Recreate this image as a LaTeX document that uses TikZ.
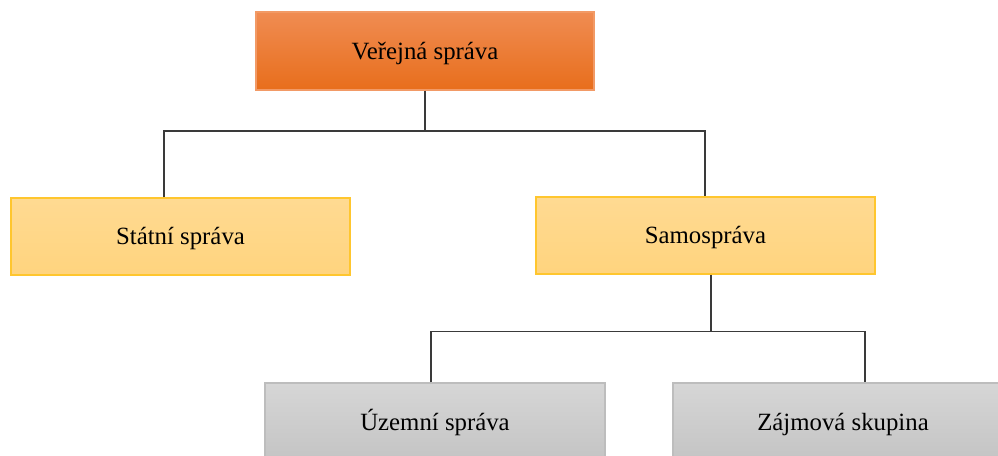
\documentclass[tikz,border=0pt]{standalone}
\usepackage{fontspec}
\setmainfont{Liberation Serif}
\begin{document}
\begin{tikzpicture}[x=1pt,y=-1pt,
  box/.style={rectangle, minimum height=78pt, inner sep=0pt, text height=21pt, text depth=5pt, font=\fontsize{24.8}{29}\selectfont, text=black, line width=1.2pt},
  orangebox/.style={box, minimum width=338pt, top color=orangeT, bottom color=orangeB, draw=orangeD},
  yellowbox/.style={box, minimum width=339pt, minimum height=77pt, top color=yellowT, bottom color=yellowB, draw=yellowD},
  graybox/.style={box, minimum width=340pt, top color=grayT, bottom color=grayB, draw=grayD},
  conn/.style={draw=lineC, line width=1.5pt}]
\definecolor{orangeT}{HTML}{F08C52}
\definecolor{orangeB}{HTML}{E86E1C}
\definecolor{orangeD}{HTML}{F29A66}
\definecolor{yellowT}{HTML}{FFDA92}
\definecolor{yellowB}{HTML}{FFD47E}
\definecolor{yellowD}{HTML}{FFC62E}
\definecolor{grayT}{HTML}{D6D6D6}
\definecolor{grayB}{HTML}{C4C4C4}
\definecolor{grayD}{HTML}{BDBDBD}
\definecolor{lineC}{HTML}{3A3A3A}
\useasboundingbox (0,0) rectangle (998,455);
\clip (0,0) rectangle (998,455);
\fill[white] (0,0) rectangle (998,455);
\node[orangebox] (top) at (425,51) {Veřejná správa};
\node[yellowbox] (statni) at (180.5,236.5) {Státní správa};
\node[yellowbox] (samo) at (705.5,235.5) {Samospráva};
\node[graybox] (uzemni) at (435,422) {Územní správa};
\node[graybox] (zajmova) at (843,422) {Zájmová skupina};
\draw[conn] (top.south) -- ++(0,40.5) coordinate (h1);
\draw[conn] ([xshift=-16.5pt]statni.north) |- (h1) -| ([xshift=-0.5pt]samo.north);
\draw[conn] ([xshift=5.5pt]samo.south) -- ++(0,57) coordinate (h2);
\draw[conn] ([xshift=-4pt]uzemni.north) |- (h2) -| ([xshift=22pt]zajmova.north);
\end{tikzpicture}
\end{document}
